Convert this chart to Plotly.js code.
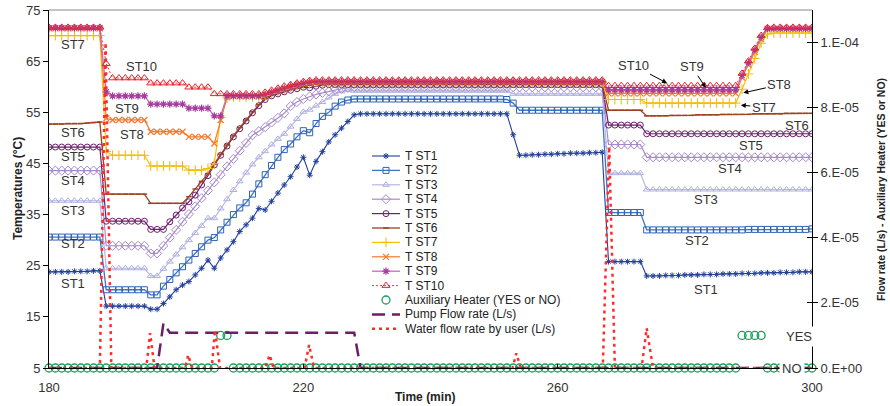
<!DOCTYPE html>
<html><head><meta charset="utf-8">
<script src="https://cdn.plot.ly/plotly-3.0.1.min.js"></script>
<style>html,body{margin:0;padding:0;background:#fff}#chart{width:890px;height:406px}</style>
</head><body><div id="chart"></div>
<script>
const time = [180,181,182,183,184,185,186,187,188,189,
190,191,192,193,194,195,196,197,198,199,
200,201,202,203,204,205,206,207,208,209,
210,211,212,213,214,215,216,217,218,219,
220,221,222,223,224,225,226,227,228,229,
230,231,232,233,234,235,236,237,238,239,
240,241,242,243,244,245,246,247,248,249,
250,251,252,253,254,255,256,257,258,259,
260,261,262,263,264,265,266,267,268,269,
270,271,272,273,274,275,276,277,278,279,
280,281,282,283,284,285,286,287,288,289,
290,291,292,293,294,295,296,297,298,299,300];

const ST1 = [23.8,23.8,23.8,23.8,23.9,23.9,23.9,24.0,24.0,17.1,
17.1,17.1,17.1,17.1,17.1,17.1,16.5,16.5,17.6,18.9,
20.3,21.2,21.9,23.2,24.5,26.1,24.5,26.5,28.1,29.7,
31.7,33.0,34.3,36.2,35.9,37.6,39.2,40.8,42.4,44.3,
46.2,42.7,45.4,47.3,49.2,50.6,51.9,53.2,54.5,54.7,
54.7,54.7,54.7,54.7,54.7,54.7,54.7,54.7,54.7,54.7,
54.7,54.7,54.7,54.7,54.7,54.7,54.7,54.7,54.7,54.7,
54.7,54.7,54.7,50.6,46.6,46.6,46.7,46.7,46.8,46.8,
46.9,46.9,47.0,47.0,47.0,47.1,47.1,47.2,25.8,25.8,
25.8,25.8,25.8,25.8,23.0,23.0,23.0,23.1,23.1,23.1,
23.2,23.2,23.2,23.3,23.3,23.3,23.4,23.4,23.4,23.5,
23.5,23.5,23.6,23.6,23.6,23.7,23.7,23.7,23.8,23.8,23.8];

const ST2 = [30.6,30.6,30.6,30.6,30.6,30.6,30.6,30.6,30.6,20.3,
20.3,20.3,20.3,20.3,20.3,20.3,19.3,19.3,21.0,22.3,
23.6,24.8,26.1,27.4,28.7,30.0,30.5,32.0,33.5,35.0,
36.3,37.3,39.0,41.0,42.8,44.6,46.2,47.7,48.8,50.2,
51.4,51.0,52.8,54.2,55.0,56.2,57.0,57.4,57.6,57.6,
57.6,57.6,57.6,57.6,57.6,57.6,57.6,57.6,57.6,57.6,
57.6,57.6,57.6,57.6,57.6,57.6,57.6,57.6,57.6,57.6,
57.6,57.6,57.5,56.8,55.4,55.4,55.4,55.4,55.4,55.4,
55.4,55.4,55.4,55.4,55.4,55.4,55.4,55.4,35.4,35.4,
35.4,35.4,35.4,35.4,32.0,32.0,32.0,32.0,32.0,32.0,
32.0,32.0,32.0,32.0,32.0,32.0,32.0,32.0,32.0,32.0,
32.1,32.1,32.1,32.1,32.1,32.1,32.1,32.1,32.1,32.1,32.2];

const ST3 = [37.7,37.7,37.7,37.7,37.7,37.7,37.7,37.7,37.7,24.5,
24.5,24.5,24.5,24.5,24.5,24.5,23.0,23.0,24.4,25.8,
27.2,28.6,30.0,31.4,32.8,34.3,34.3,36.2,38.0,39.8,
41.5,43.2,44.8,46.2,47.4,48.7,49.8,50.8,52.2,53.7,
55.1,55.5,56.3,57.0,57.9,58.6,59.1,59.4,59.2,59.2,
59.2,59.2,59.2,59.2,59.2,59.2,59.2,59.2,59.2,59.2,
59.2,59.2,59.2,59.2,59.2,59.2,59.2,59.2,59.2,59.2,
59.2,59.2,59.2,58.6,58.6,58.6,58.6,58.6,58.6,58.6,
58.6,58.6,58.6,58.6,58.6,58.6,58.6,58.6,43.1,43.1,
43.1,43.1,43.1,43.1,39.9,39.9,39.9,39.9,39.9,39.9,
39.9,39.9,39.9,39.9,39.9,39.9,39.9,39.9,39.9,39.9,
39.9,39.9,39.9,39.9,39.9,39.9,39.9,39.9,39.9,39.9,39.9];

const ST4 = [43.6,43.6,43.6,43.6,43.6,43.6,43.6,43.6,43.6,28.9,
28.9,28.9,28.9,28.9,28.9,28.9,27.4,27.4,28.9,30.5,
32.0,33.6,35.1,36.6,38.2,39.7,41.3,42.8,44.4,45.9,
47.5,49.0,50.5,51.3,52.1,53.0,53.9,54.8,56.2,57.0,
57.6,58.1,58.5,58.8,59.1,59.4,59.6,59.8,59.9,59.9,
59.9,59.9,59.9,59.9,59.9,59.9,59.9,59.9,59.9,59.9,
59.9,59.9,59.9,59.9,59.9,59.9,59.9,59.9,59.9,59.9,
59.9,59.9,59.9,59.9,59.9,59.9,59.9,59.9,59.9,59.9,
59.9,59.9,59.9,59.9,59.9,59.9,59.9,59.9,48.7,48.7,
48.7,48.7,48.7,48.7,46.2,46.2,46.2,46.2,46.2,46.2,
46.2,46.2,46.2,46.2,46.2,46.2,46.2,46.2,46.2,46.2,
46.2,46.2,46.2,46.2,46.2,46.2,46.2,46.2,46.2,46.2,46.2];

const ST5 = [48.2,48.2,48.2,48.2,48.2,48.2,48.2,48.2,48.2,33.7,
33.7,33.7,33.7,33.7,33.7,33.7,32.1,32.1,32.1,33.6,
34.9,36.3,37.5,38.8,40.8,42.6,44.7,46.6,48.4,50.2,
51.8,53.3,54.9,56.3,57.5,58.2,58.6,59.0,59.3,59.6,
59.9,59.8,60.1,60.3,60.4,60.4,60.4,60.4,60.4,60.4,
60.4,60.4,60.4,60.4,60.4,60.4,60.4,60.4,60.4,60.4,
60.4,60.4,60.4,60.4,60.4,60.4,60.4,60.4,60.4,60.4,
60.4,60.4,60.4,60.4,60.4,60.4,60.4,60.4,60.4,60.4,
60.4,60.4,60.4,60.4,60.4,60.4,60.4,60.4,52.5,52.5,
52.5,52.5,52.5,52.5,50.8,50.8,50.8,50.8,50.8,50.8,
50.8,50.8,50.8,50.8,50.8,50.8,50.8,50.8,50.8,50.8,
50.8,50.8,50.8,50.8,50.8,50.8,50.8,50.8,50.8,50.8,50.8];

const ST6 = [52.7,52.7,52.7,52.8,52.8,52.8,52.9,53.0,53.1,39.0,
39.0,39.0,39.0,39.0,39.0,39.0,37.2,37.2,37.2,37.2,
37.2,37.2,38.5,40.0,41.5,43.0,44.9,46.8,48.6,50.4,
52.0,53.5,55.1,56.5,57.7,58.4,58.8,59.2,59.5,59.8,
60.1,60.3,60.5,60.6,60.6,60.6,60.6,60.6,60.6,60.6,
60.6,60.6,60.6,60.6,60.6,60.6,60.6,60.6,60.6,60.6,
60.6,60.6,60.6,60.6,60.6,60.6,60.6,60.6,60.6,60.6,
60.6,60.6,60.6,60.6,60.6,60.6,60.6,60.6,60.6,60.6,
60.6,60.6,60.6,60.6,60.6,60.6,60.6,60.6,55.4,55.4,
55.4,55.4,55.4,55.4,54.3,54.3,54.3,54.3,54.4,54.4,
54.4,54.4,54.5,54.5,54.5,54.5,54.6,54.6,54.6,54.6,
54.6,54.7,54.7,54.7,54.7,54.7,54.8,54.8,54.8,54.8,54.8];

const ST7 = [70.0,70.0,70.0,70.0,70.0,70.0,70.0,70.0,70.0,47.3,
46.6,46.6,46.6,46.6,46.6,46.6,44.5,44.5,44.5,44.5,
44.5,44.5,43.7,43.7,43.7,44.0,45.0,54.0,57.8,58.0,
58.0,58.0,58.0,58.0,58.3,58.7,59.1,59.5,59.9,60.2,
60.5,60.7,60.8,60.8,60.8,60.8,60.8,60.8,60.8,60.8,
60.8,60.8,60.8,60.8,60.8,60.8,60.8,60.8,60.8,60.8,
60.8,60.8,60.8,60.8,60.8,60.8,60.8,60.8,60.8,60.8,
60.8,60.8,60.8,60.8,60.8,60.8,60.8,60.8,60.8,60.8,
60.8,60.8,60.8,60.8,60.8,60.8,60.8,60.8,57.5,57.5,
57.5,57.5,57.5,57.5,56.8,56.8,56.8,56.8,56.8,56.8,
56.8,56.8,56.8,56.8,56.8,56.8,56.8,56.8,56.8,59.5,
62.5,65.5,68.5,70.3,70.5,70.5,70.5,70.5,70.5,70.5,70.5];

const ST8 = [71.4,71.4,71.4,71.4,71.4,71.4,71.4,71.4,71.4,53.8,
53.5,53.5,53.5,53.5,53.5,53.5,51.2,51.2,51.2,51.2,
51.2,51.2,50.2,50.2,50.2,50.2,48.9,53.5,57.9,58.1,
58.1,58.1,58.1,58.1,58.4,58.8,59.2,59.6,60.0,60.3,
60.6,60.8,60.9,60.9,60.9,60.9,60.9,60.9,60.9,60.9,
60.9,60.9,60.9,60.9,60.9,60.9,60.9,60.9,60.9,60.9,
60.9,60.9,60.9,60.9,60.9,60.9,60.9,60.9,60.9,60.9,
60.9,60.9,60.9,60.9,60.9,60.9,60.9,60.9,60.9,60.9,
60.9,60.9,60.9,60.9,60.9,60.9,60.9,60.9,58.7,58.7,
58.7,58.7,58.7,58.7,58.7,58.7,58.7,58.7,58.7,58.7,
58.7,58.7,58.7,58.7,58.7,58.7,58.7,58.7,58.7,61.8,
64.3,66.8,69.3,71.2,71.3,71.3,71.3,71.3,71.3,71.3,71.3];

const ST9 = [71.5,71.5,71.5,71.5,71.5,71.5,71.5,71.5,71.5,59.0,
58.2,58.2,58.2,58.2,58.2,58.2,56.6,56.6,56.6,56.6,
56.6,56.6,55.8,55.8,55.8,55.8,54.3,54.3,58.2,58.2,
58.2,58.2,58.2,58.2,58.5,58.9,59.3,59.7,60.1,60.4,
60.7,60.9,61.0,61.0,61.0,61.0,61.0,61.0,61.0,61.0,
61.0,61.0,61.0,61.0,61.0,61.0,61.0,61.0,61.0,61.0,
61.0,61.0,61.0,61.0,61.0,61.0,61.0,61.0,61.0,61.0,
61.0,61.0,61.0,61.0,61.0,61.0,61.0,61.0,61.0,61.0,
61.0,61.0,61.0,61.0,61.0,61.0,61.0,61.0,59.4,59.4,
59.4,59.4,59.4,59.4,59.4,59.4,59.4,59.4,59.4,59.4,
59.4,59.4,59.4,59.4,59.4,59.4,59.4,59.4,59.4,62.2,
64.7,67.2,69.7,71.4,71.4,71.4,71.4,71.4,71.4,71.4,71.4];

const ST10 = [71.6,71.6,71.6,71.6,71.6,71.6,71.6,71.6,71.6,64.5,
61.7,61.7,61.7,61.7,61.7,61.7,60.7,60.7,60.7,60.7,
60.7,60.7,59.9,59.9,59.9,59.9,58.6,58.6,58.6,58.6,
58.6,58.6,58.6,58.6,58.9,59.3,59.7,60.1,60.4,60.7,
61.0,61.2,61.3,61.3,61.3,61.3,61.3,61.3,61.3,61.3,
61.3,61.3,61.3,61.3,61.3,61.3,61.3,61.3,61.3,61.3,
61.3,61.3,61.3,61.3,61.3,61.3,61.3,61.3,61.3,61.3,
61.3,61.3,61.3,61.3,61.3,61.3,61.3,61.3,61.3,61.3,
61.3,61.3,61.3,61.3,61.3,61.3,61.3,61.3,60.2,60.2,
60.2,60.2,60.2,60.2,60.2,60.2,60.2,60.2,60.2,60.2,
60.2,60.2,60.2,60.2,60.2,60.2,60.2,60.2,60.2,62.6,
65.0,67.5,70.0,71.5,71.6,71.6,71.6,71.6,71.6,71.6,71.6];

// Auxiliary heater state: 1 = YES, 0 = NO (plotted on the flow axis at the YES level)
const heaterState = [0,0,0,0,0,0,0,0,0,0,
0,0,0,0,0,0,0,0,0,0,
0,0,0,0,0,0,0,1,1,0,
0,0,0,0,0,0,0,0,0,0,
0,0,0,0,0,0,0,0,0,0,
0,0,0,0,0,0,0,0,0,0,
0,0,0,0,0,0,0,0,0,0,
0,0,0,0,0,0,0,0,0,0,
0,0,0,0,0,0,0,0,0,0,
0,0,0,0,0,0,0,0,0,0,
0,0,0,0,0,0,0,0,0,1,
1,1,1,0,0,0,0,0,0,0,0];
const heaterYesLevel = 1e-5;

const pumpFlow = [0,0,0,0,0,0,0,0,0,0,
0,0,0,0,0,0,0,0,1.375e-5,1.086e-5,
1.086e-5,1.086e-5,1.086e-5,1.086e-5,1.086e-5,1.086e-5,1.086e-5,1.086e-5,1.086e-5,1.086e-5,
1.086e-5,1.086e-5,1.086e-5,1.086e-5,1.086e-5,1.086e-5,1.086e-5,1.086e-5,1.086e-5,1.086e-5,
1.086e-5,1.086e-5,1.086e-5,1.086e-5,1.086e-5,1.086e-5,1.086e-5,1.086e-5,1.086e-5,0,
0,0,0,0,0,0,0,0,0,0,
0,0,0,0,0,0,0,0,0,0,
0,0,0,0,0,0,0,0,0,0,
0,0,0,0,0,0,0,0,0,0,
0,0,0,0,0,0,0,0,0,0,
0,0,0,0,0,0,0,0,0,0,
0,0,0,0,0,0,0,0,0,0,0];

const waterTime = [180,188.0,188.9,189.8,195.3,195.9,196.6,201.4,201.9,202.5,205.6,206.1,206.9,214.0,214.7,215.3,220.2,220.9,221.7,252.9,253.5,254.2,267.1,268.1,269.0,273.2,274.0,275.0,300];
const waterFlow = [0,0,1.0e-4,0,0,1.07e-5,0,0,4e-6,0,0,1.17e-5,0,0,4e-6,0,0,7.1e-6,0,0,4.5e-6,0,0,6.8e-5,0,0,1.22e-5,0,0];

const xTicks = [180,220,260,300];
const yTicks = [5,15,25,35,45,55,65,75];
const y2Ticks = [0,2e-5,4e-5,6e-5,8e-5,1e-4];
const y2TickText = ['0.E+00','2.E-05','4.E-05','6.E-05','8.E-05','1.E-04'];

const seriesNames = ['T ST1','T ST2','T ST3','T ST4','T ST5','T ST6','T ST7','T ST8','T ST9','T ST10'];
const seriesData = [ST1,ST2,ST3,ST4,ST5,ST6,ST7,ST8,ST9,ST10];

const styles = [
  {line:{color:'#23409A',width:1.1}, marker:{symbol:'asterisk-open',size:5,color:'#23409A',line:{color:'#23409A',width:1}}},
  {line:{color:'#3F73C6',width:1.3}, marker:{symbol:'square-open',size:6,color:'#2E62B5',line:{color:'#2E62B5',width:1}}},
  {line:{color:'#B7B7E6',width:1.2}, marker:{symbol:'triangle-up-open',size:6,color:'#AFAFE0',line:{color:'#AFAFE0',width:1}}},
  {line:{color:'#A68BCB',width:1.2}, marker:{symbol:'diamond-open',size:7,color:'#A68BCB',line:{color:'#A68BCB',width:1}}},
  {line:{color:'#6E1F6E',width:1.2}, marker:{symbol:'circle-open',size:6,color:'#6E1F6E',line:{color:'#6E1F6E',width:1}}},
  {line:{color:'#9E4220',width:1.3}, marker:{symbol:'line-ew-open',size:4,color:'#9E4220',line:{color:'#9E4220',width:1.5}}},
  {line:{color:'#FFC000',width:1.2}, marker:{symbol:'cross-thin-open',size:7,color:'#F5B800',line:{color:'#F5B800',width:1}}},
  {line:{color:'#F47A2C',width:1.2}, marker:{symbol:'x-thin-open',size:6,color:'#F47A2C',line:{color:'#F47A2C',width:1.2}}},
  {line:{color:'#C46DBE',width:1.3}, marker:{symbol:'asterisk-open',size:6,color:'#A43C9E',line:{color:'#A43C9E',width:1.2}}},
  {line:{color:'#FF3030',width:1,dash:'2px,2px'}, marker:{symbol:'triangle-up-open',size:7,color:'#E8202A',line:{color:'#E8202A',width:1}}}
];
const heaterStyle = {symbol:'circle-open',size:8,color:'#18A05C',line:{color:'#18A05C',width:1.3}};
const pumpStyle = {color:'#6B1F66',width:2.5,dash:'13px,7px'};
const waterStyle = {color:'#FF2A2A',width:2.5,dash:'3px,4px'};

const traces = [];
seriesData.forEach((d,i)=>{
  traces.push({x:time,y:d,name:seriesNames[i],type:'scatter',mode:'lines+markers',
    line:styles[i].line,marker:styles[i].marker,xaxis:'x',yaxis:'y',hoverinfo:'skip'});
});
traces.push({x:time,y:heaterState.map(s=>s*heaterYesLevel),name:'Auxiliary Heater (YES or NO)',type:'scatter',mode:'markers',
  marker:heaterStyle,xaxis:'x',yaxis:'y2',cliponaxis:false,hoverinfo:'skip'});
traces.push({x:time,y:pumpFlow,name:'Pump Flow rate (L/s)',type:'scatter',mode:'lines',line:pumpStyle,xaxis:'x',yaxis:'y2',cliponaxis:false,hoverinfo:'skip'});
traces.push({x:waterTime,y:waterFlow,name:'Water flow rate by user (L/s)',type:'scatter',mode:'lines',line:waterStyle,xaxis:'x',yaxis:'y2',cliponaxis:false,hoverinfo:'skip'});
traces.push({x:[180],y:[null],xaxis:'x',yaxis:'y3',mode:'lines',showlegend:false,hoverinfo:'skip'});

// custom legend (pixel coordinate overlay)
const legRows = [156,170.4,184.8,199.2,213.6,228,242.4,256.8,271.2,285.6,300,314.4,328.8];
const legX0 = 372, legXm = 386, legX1 = 400, legText = 403;
const annotations = [];
seriesNames.forEach((n,i)=>{
  traces.push({x:[legX0,legXm,legX1],y:[legRows[i],legRows[i],legRows[i]],xaxis:'x2',yaxis:'y4',mode:'lines+markers',
    line:styles[i].line,marker:Object.assign({},styles[i].marker,{opacity:[0,1,0]}),cliponaxis:false,hoverinfo:'skip'});
});
traces.push({x:[legXm],y:[legRows[10]],xaxis:'x2',yaxis:'y4',mode:'markers',marker:heaterStyle,cliponaxis:false,hoverinfo:'skip'});
traces.push({x:[legX0,legX1],y:[legRows[11],legRows[11]],xaxis:'x2',yaxis:'y4',mode:'lines',line:pumpStyle,cliponaxis:false,hoverinfo:'skip'});
traces.push({x:[legX0,legX1],y:[legRows[12],legRows[12]],xaxis:'x2',yaxis:'y4',mode:'lines',line:waterStyle,cliponaxis:false,hoverinfo:'skip'});
const legNames = seriesNames.concat(['Auxiliary Heater (YES or NO)','Pump Flow rate (L/s)','Water flow rate by user (L/s)']);
legNames.forEach((n,i)=>{
  annotations.push({xref:'x2',yref:'y4',x:legText,y:legRows[i],text:n,showarrow:false,xanchor:'left',yanchor:'middle',
    font:{size:12,color:'#222'}});
});

const lblFont = {size:13,color:'#333'};
function lbl(t,x,y){ annotations.push({xref:'x',yref:'y',x:x,y:y,text:t,showarrow:false,font:lblFont}); }
function arr(t,x,y,ax,ay){ annotations.push({xref:'x',yref:'y',x:x,y:y,ax:ax,ay:ay,text:t,showarrow:true,arrowhead:2,arrowsize:1,arrowwidth:1,arrowcolor:'#000',standoff:0,font:lblFont}); }
lbl('ST7',183.8,68.3);
lbl('ST10',194.6,63.9);
lbl('ST9',192.3,55.8);
lbl('ST8',193.1,50.6);
lbl('ST6',183.8,51.0);
lbl('ST5',183.8,46.3);
lbl('ST4',183.8,41.6);
lbl('ST3',183.8,35.7);
lbl('ST2',183.8,29.4);
lbl('ST1',183.8,21.5);
arr('ST10',277.2,60.7,-34,-18);
arr('ST9',283.3,59.8,-14,-21);
arr('ST8',289.2,58.8,36,-8);
arr('ST7',288.8,56.4,23,2);
lbl('ST6',297.6,52.5);
lbl('ST5',290.4,48.6);
lbl('ST4',287.1,44.1);
lbl('ST3',283.3,37.9);
lbl('ST2',281.9,30.0);
lbl('ST1',283.3,20.3);
annotations.push({xref:'x',yref:'y',x:298.0,y:11.1,text:'YES',showarrow:false,font:lblFont,bgcolor:'#fff',borderpad:2});
annotations.push({xref:'x',yref:'y',x:296.8,y:5.0,text:'NO',showarrow:false,font:lblFont,bgcolor:'#fff',borderpad:2});
// axis titles
annotations.push({xref:'paper',yref:'paper',x:0.4928,y:-0.081,text:'<b>Time (min)</b>',showarrow:false,xanchor:'center',yanchor:'middle',font:{size:12,color:'#222'}});
annotations.push({xref:'paper',yref:'paper',x:-0.0406,y:0.5,text:'<b>Temperatures (°C)</b>',textangle:-90,showarrow:false,xanchor:'center',yanchor:'middle',font:{size:12,color:'#222'}});
annotations.push({xref:'paper',yref:'paper',x:1.0904,y:0.5,text:'<b>Flow rate (L/s) - Auxiliary Heater (YES or NO)</b>',textangle:-90,showarrow:false,xanchor:'center',yanchor:'middle',font:{size:10.5,color:'#222'}});

const tickFont = {size:13,color:'#333'};
const layout = {
  width:890,height:406,
  margin:{l:49,r:78,t:10,b:38,pad:0},
  paper_bgcolor:'#fff',plot_bgcolor:'#fff',
  showlegend:false,
  font:{family:'Liberation Sans, Arial, sans-serif',size:13,color:'#333'},
  xaxis:{range:[180,300],tickvals:xTicks,ticks:'inside',ticklen:4,tickcolor:'#000',showline:true,linecolor:'#000',linewidth:1,
    showgrid:false,zeroline:false,tickfont:tickFont,automargin:false,ticklabelstandoff:7},
  yaxis:{range:[5,75],tickvals:yTicks,ticks:'outside',ticklen:5,tickcolor:'#000',showline:true,linecolor:'#000',linewidth:1,
    showgrid:false,zeroline:false,tickfont:tickFont,automargin:false},
  yaxis2:{overlaying:'y',side:'right',anchor:'x',range:[0,1.1e-4],tickvals:y2Ticks,ticktext:y2TickText,ticks:'outside',ticklen:5,tickcolor:'#000',
    showline:true,linecolor:'#000',linewidth:1,showgrid:false,zeroline:false,tickfont:tickFont,automargin:false},
  yaxis3:{overlaying:'y',side:'right',anchor:'x',range:[0,1.1e-4],tickvals:y2Ticks,ticks:'inside',ticklen:5,tickcolor:'#000',
    showticklabels:false,showline:false,showgrid:false,zeroline:false,automargin:false},
  xaxis2:{overlaying:'x',anchor:'y4',range:[49,812],visible:false,fixedrange:true},
  yaxis4:{overlaying:'y',anchor:'x2',range:[368,10],visible:false,fixedrange:true},
  shapes:[{type:'line',xref:'paper',yref:'paper',x0:0,x1:1,y0:1,y1:1,line:{color:'#888',width:1}}],
  annotations:annotations
};
Plotly.newPlot('chart',traces,layout,{displayModeBar:false,staticPlot:true});
</script></body></html>
